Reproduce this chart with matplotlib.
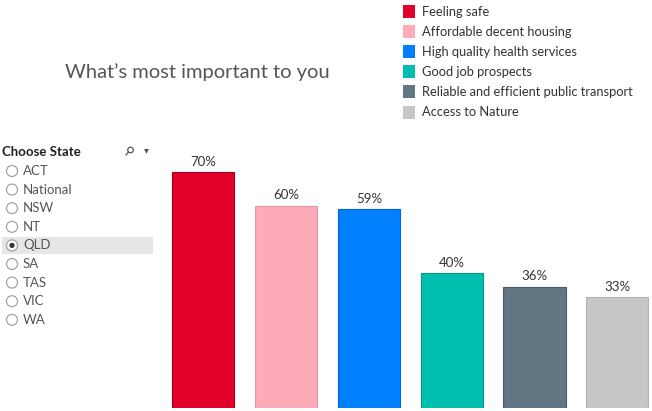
import matplotlib.pyplot as plt
from matplotlib.patches import Rectangle, Circle

plt.rcParams['font.family'] = ['Lato', 'DejaVu Sans']

categories = ["Feeling safe", "Affordable decent housing", "High quality health services",
              "Good job prospects", "Reliable and efficient public transport", "Access to Nature"]
values = [70, 60, 59, 40, 36, 33]
colors = ["#E3002B", "#FDAAB9", "#0080FF", "#00BFAF", "#637683", "#C8C7C8"]
edges = ["#A8001F", "#E494A3", "#0066CC", "#00998C", "#4A5A66", "#B5B4B5"]
states = ["ACT", "National", "NSW", "NT", "QLD", "SA", "TAS", "VIC", "WA"]
selected = "QLD"

W, H = 652, 411
fig = plt.figure(figsize=(W / 100, H / 100), dpi=100)

# overlay in pixel coordinates for title, legend and filter panel
ov = fig.add_axes([0, 0, 1, 1])
ov.set_xlim(0, W)
ov.set_ylim(H, 0)
ov.axis("off")

# bar chart area
left, right, bottom, top = 162, 652, 408, 150
ax = fig.add_axes([left / W, (H - bottom) / H, (right - left) / W, (bottom - top) / H])
x = range(len(categories))
bars = ax.bar(x, values, width=0.75, color=colors, edgecolor=edges, linewidth=0.8)
for xi, v in zip(x, values):
    ax.annotate(f"{v}%", (xi, v), xytext=(0, 3), textcoords="offset points",
                ha="center", va="bottom", fontsize=9.5, color="#333333")
ax.set_xlim(-0.5, 5.42)
ax.set_ylim(0, 76.5)
ax.axis("off")

# title
ov.text(197, 72, "What\u2019s most important to you", ha="center", va="center",
        fontsize=14.5, color="#555555")

# legend
for i, (lab, c) in enumerate(zip(categories, colors)):
    y = 12 + i * 20
    ov.add_patch(Rectangle((403, y - 6.5), 12, 13, facecolor=c, edgecolor="none"))
    ov.text(422, y, lab, ha="left", va="center", fontsize=9.3, color="#333333")

# filter panel
ov.text(2, 152, "Choose State", ha="left", va="center", fontsize=9.5,
        fontweight="bold", color="#222222")
# search icon
ov.add_patch(Circle((130.5, 150), 2.8, facecolor="none", edgecolor="#555555", linewidth=0.9))
ov.plot([128.5, 126], [152, 155], color="#555555", linewidth=0.9)
ov.text(146, 151, "\u25BE", ha="center", va="center", fontsize=7, color="#555555")
for i, s in enumerate(states):
    y = 171 + i * 18.6
    if s == selected:
        ov.add_patch(Rectangle((2, y - 8.5), 151, 17, facecolor="#E6E6E6", edgecolor="none"))
    ov.add_patch(Circle((12, y), 5.5, facecolor="white", edgecolor="#9A9A9A", linewidth=0.8))
    if s == selected:
        ov.add_patch(Circle((12, y), 2.6, facecolor="#333333", edgecolor="none"))
    ov.text(23, y, s, ha="left", va="center", fontsize=9.5, color="#555555")

fig.savefig("out.png", dpi=100)
